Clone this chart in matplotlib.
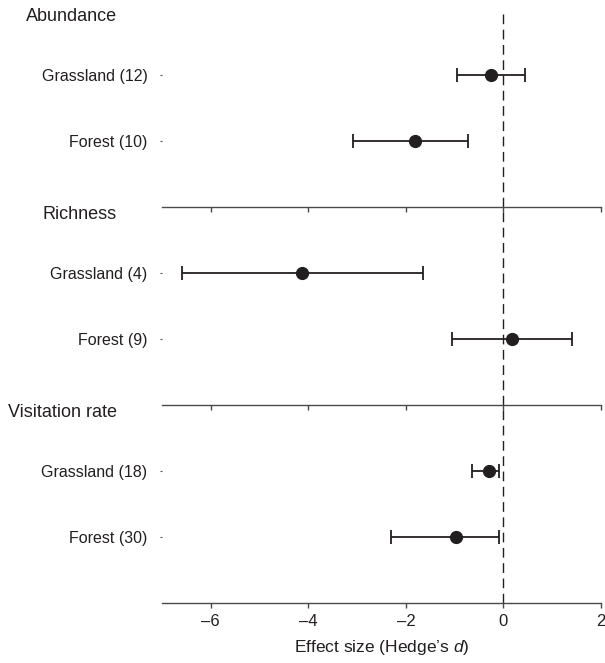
import numpy as np
import matplotlib.pyplot as plt

plt.rcParams['font.family'] = ['Liberation Sans', 'DejaVu Sans']
plt.rcParams['mathtext.fontset'] = 'custom'
plt.rcParams['mathtext.rm'] = 'Liberation Sans'
plt.rcParams['mathtext.it'] = 'Liberation Sans:italic'

# data
panels = ["Abundance", "Richness", "Visitation rate"]
labels = [["Grassland (12)", "Forest (10)"],
          ["Grassland (4)", "Forest (9)"],
          ["Grassland (18)", "Forest (30)"]]
effect = [[-0.25, -1.81], [-4.13, 0.17], [-0.29, -0.98]]
lower = [[-0.95, -3.08], [-6.60, -1.05], [-0.64, -2.31]]
upper = [[0.45, -0.72], [-1.65, 1.40], [-0.09, -0.09]]
xticks = [-6, -4, -2, 0, 2]

ink = "#231f20"
fig = plt.figure(figsize=(6.05, 6.63), dpi=100)
left = 162 / 605
width = (601 - 162) / 605
h = 198 / 663
bottom0 = (663 - 602.5) / 663

for i in range(3):
    ax = fig.add_axes([left, bottom0 + (2 - i) * h, width, h])
    ypos = np.array([2, 1])
    est = np.array(effect[i])
    lo = est - np.array(lower[i])
    hi = np.array(upper[i]) - est
    ax.axvline(0, color=ink, lw=1, ls=(0, (7, 4)), zorder=1)
    ax.errorbar(est, ypos, xerr=[lo, hi], fmt='o', color=ink, ecolor=ink,
                markersize=8.5, elinewidth=1.3, capsize=5, capthick=1.3, zorder=3)
    ax.set_xlim(-7, 2)
    ax.set_ylim(0, 3)
    for s in ["top", "right", "left"]:
        ax.spines[s].set_visible(False)
    ax.spines["bottom"].set_color("#4a4a4a")
    ax.spines["bottom"].set_linewidth(1.0)
    ax.set_yticks(ypos)
    ax.set_yticklabels(labels[i], fontsize=11.5, color=ink)
    ax.tick_params(axis='y', length=1.5, width=0.8, pad=9, color="#555555")
    ax.set_xticks(xticks)
    ax.tick_params(axis='x', length=3.5, width=1, color="#4a4a4a", labelsize=12,
                   labelcolor=ink, pad=5)
    if i < 2:
        ax.tick_params(axis='x', labelbottom=False)
    else:
        ax.set_xticklabels(["\u20136", "\u20134", "\u20132", "0", "2"])
        ax.set_xlabel("Effect size (Hedge\u2019s $\\it{d}$)", fontsize=12.5,
                      color=ink, labelpad=6)
    ax.text(-0.1025, 0.96, panels[i], transform=ax.transAxes, ha='right',
            va='center', fontsize=13, color=ink)
    ax.patch.set_alpha(0)

fig.savefig("out.png", dpi=100)
